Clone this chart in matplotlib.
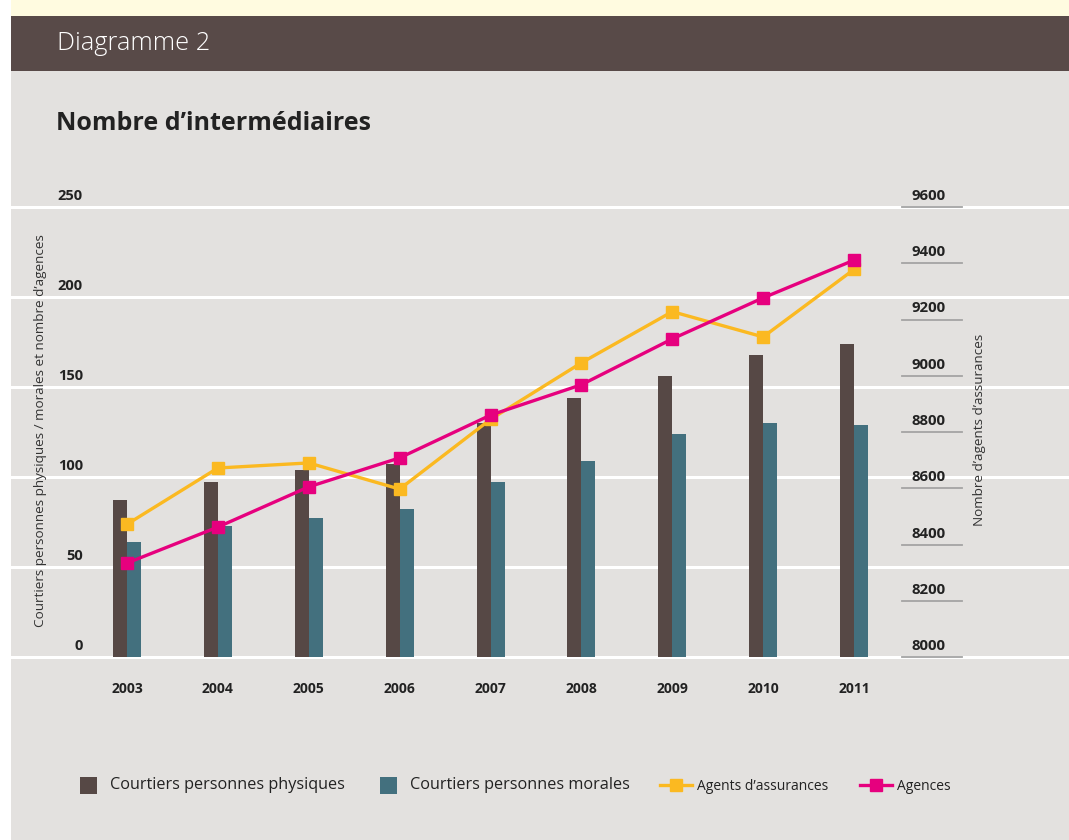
import matplotlib
matplotlib.use("Agg")
import matplotlib.pyplot as plt
from matplotlib.patches import Rectangle
from matplotlib.lines import Line2D
import numpy as np

# ---------------- data ----------------
years = ["2003", "2004", "2005", "2006", "2007", "2008", "2009", "2010", "2011"]
courtiers_physiques = [87, 97, 104, 107, 130, 144, 156, 168, 174]
courtiers_morales = [64, 73, 77, 82, 97, 109, 124, 130, 129]
agents_assurances = [8472, 8672, 8690, 8597, 8845, 9046, 9228, 9138, 9378]
agences = [8334, 8462, 8605, 8708, 8860, 8968, 9131, 9277, 9411]

left_ticks = [0, 50, 100, 150, 200, 250]
right_ticks = [8000, 8200, 8400, 8600, 8800, 9000, 9200, 9400, 9600]

series_names = ["Courtiers personnes physiques", "Courtiers personnes morales",
                "Agents d\u2019assurances", "Agences"]
header_text = "Diagramme 2"
title_text = "Nombre d\u2019interm\u00e9diaires"
left_label = "Courtiers personnes physiques / morales et nombre d\u2019agences"
right_label = "Nombre d\u2019agents d\u2019assurances"

# ---------------- style ----------------
C_BROWN = "#564845"
C_TEAL = "#43707e"
C_YELLOW = "#fbb921"
C_MAGENTA = "#e6007e"
C_BG = "#e3e1df"
C_HEADER = "#584a48"
C_TOPBAND = "#fffbe0"
C_TEXT = "#222222"

plt.rcParams['font.family'] = ['Open Sans', 'DejaVu Sans']

W, H = 1069, 840
fig = plt.figure(figsize=(W / 100, H / 100), dpi=100, facecolor="white")


def fx(px):
    return px / W


def fy(py):
    return 1 - py / H


# background blocks
fig.add_artist(Rectangle((fx(11), 0), fx(1069 - 11), (840 - 71) / H,
                         transform=fig.transFigure, facecolor=C_BG, edgecolor="none", zorder=0))
fig.add_artist(Rectangle((fx(11), fy(71)), fx(1069 - 11), 55 / H,
                         transform=fig.transFigure, facecolor=C_HEADER, edgecolor="none", zorder=0))
fig.add_artist(Rectangle((fx(11), fy(16)), fx(1069 - 11), 16 / H,
                         transform=fig.transFigure, facecolor=C_TOPBAND, edgecolor="none", zorder=0))

fig.text(fx(57), fy(44), header_text, color="white", fontsize=18.3, fontweight="light",
         va="center", ha="left")
fig.text(fx(56), fy(124), title_text, color=C_TEXT, fontsize=18, fontweight="bold",
         va="center", ha="left")

# axes covering full width of grey area
ax_left_px, ax_right_px = 11, 1069
ax_top_px, ax_bot_px = 207, 657
ax = fig.add_axes([fx(ax_left_px), fy(ax_bot_px), fx(ax_right_px - ax_left_px),
                   (ax_bot_px - ax_top_px) / H])
ax.set_facecolor("none")

x = np.arange(len(years))
px_per_cat = (854 - 127) / 8.0
ax.set_xlim(-(127 - ax_left_px) / px_per_cat, (ax_right_px - 127) / px_per_cat)
ax.set_ylim(0, 250)

bw = 14 / px_per_cat
ax.bar(x - bw / 2, courtiers_physiques, width=bw, color=C_BROWN, zorder=2)
ax.bar(x + bw / 2, courtiers_morales, width=bw, color=C_TEAL, zorder=2)

for v in left_ticks:
    ax.axhline(v, color="white", lw=2.2, zorder=1, clip_on=False)

for s in ax.spines.values():
    s.set_visible(False)
ax.set_xticks([])
ax.set_yticks([])

ytr = ax.get_yaxis_transform()
lx = (83 - ax_left_px) / (ax_right_px - ax_left_px)
for v in left_ticks:
    ax.annotate(str(v), xy=(lx, v), xycoords=ytr, xytext=(0, 4), textcoords="offset pixels",
                ha="right", va="bottom", fontsize=10.5, fontweight="bold", color=C_TEXT)

xtr = ax.get_xaxis_transform()
for i, yr in enumerate(years):
    ax.annotate(yr, xy=(x[i], 0), xycoords=xtr, xytext=(0, -32), textcoords="offset pixels",
                ha="center", va="center", fontsize=10, fontweight="bold", color=C_TEXT,
                annotation_clip=False)

# right axis
ax2 = ax.twinx()
ax2.set_ylim(8000, 9600)
ax2.set_facecolor("none")
for s in ax2.spines.values():
    s.set_visible(False)
ax2.set_yticks([])
ax2.set_xticks([])

ax2.plot(x, agents_assurances, color=C_YELLOW, lw=2.4, marker="s", markersize=9,
         zorder=3, clip_on=False)
ax2.plot(x, agences, color=C_MAGENTA, lw=2.4, marker="s", markersize=9,
         zorder=4, clip_on=False)

ytr2 = ax2.get_yaxis_transform()
span = ax_right_px - ax_left_px
ux0 = (902 - ax_left_px) / span
ux1 = (962 - ax_left_px) / span
uxc = (931 - ax_left_px) / span
for v in right_ticks:
    ax2.plot([ux0, ux1], [v, v], transform=ytr2, color="#a4a4a4", lw=1.3,
             zorder=2, clip_on=False)
    ax2.annotate(str(v), xy=(uxc, v), xycoords=ytr2, xytext=(-2, 4), textcoords="offset pixels",
                 ha="center", va="bottom", fontsize=10.8, fontweight="bold", color=C_TEXT)

# axis titles
fig.text(fx(41), fy(431), left_label, rotation=90, ha="center", va="center",
         fontsize=9.7, color="#333333")
fig.text(fx(980), fy(430), right_label, rotation=90, ha="center", va="center",
         fontsize=9.7, color="#333333")

# legend (manual)
ly = 785
sq = 17
fig.add_artist(Rectangle((fx(80), fy(ly + sq / 2)), sq / W, sq / H, transform=fig.transFigure,
                         facecolor=C_BROWN, edgecolor="none"))
fig.text(fx(110), fy(ly), series_names[0], fontsize=11.7, color=C_TEXT, va="center", ha="left")
fig.add_artist(Rectangle((fx(380), fy(ly + sq / 2)), sq / W, sq / H, transform=fig.transFigure,
                         facecolor=C_TEAL, edgecolor="none"))
fig.text(fx(410), fy(ly), series_names[1], fontsize=11.7, color=C_TEXT, va="center", ha="left")

for x0, col, name in [(660, C_YELLOW, series_names[2]), (860, C_MAGENTA, series_names[3])]:
    fig.add_artist(Line2D([fx(x0), fx(x0 + 32)], [fy(ly), fy(ly)], transform=fig.transFigure,
                          color=col, lw=2.4))
    fig.add_artist(Line2D([fx(x0 + 16)], [fy(ly)], transform=fig.transFigure, color=col,
                          marker="s", markersize=8, lw=0))
    fig.text(fx(x0 + 37), fy(ly + 1), name, fontsize=10, color=C_TEXT, va="center", ha="left")

fig.savefig("out.png", dpi=100, facecolor=fig.get_facecolor())
